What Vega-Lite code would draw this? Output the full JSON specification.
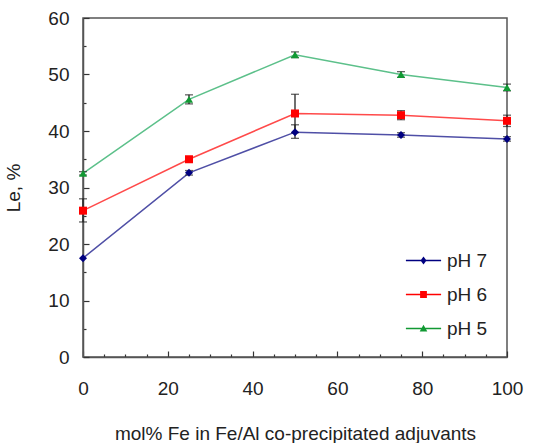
{
  "$schema": "https://vega.github.io/schema/vega-lite/v6.json",
  "autosize": "none",
  "width": 424,
  "height": 339,
  "padding": {"left": 83, "top": 18, "right": 28, "bottom": 86},
  "background": "white",
  "data": {"values": [
    {"series": "pH 7", "x": 0, "y": 17.5},
    {"series": "pH 7", "x": 25, "y": 32.6, "lo": 32.2, "hi": 33.0},
    {"series": "pH 7", "x": 50, "y": 39.8, "lo": 38.7, "hi": 41.1},
    {"series": "pH 7", "x": 75, "y": 39.3, "lo": 38.9, "hi": 39.7},
    {"series": "pH 7", "x": 100, "y": 38.6, "lo": 38.2, "hi": 39.0},
    {"series": "pH 6", "x": 0, "y": 25.9, "lo": 23.9, "hi": 28.0},
    {"series": "pH 6", "x": 25, "y": 35.0, "lo": 34.6, "hi": 35.4},
    {"series": "pH 6", "x": 50, "y": 43.1, "lo": 39.7, "hi": 46.5},
    {"series": "pH 6", "x": 75, "y": 42.8, "lo": 42.0, "hi": 43.6},
    {"series": "pH 6", "x": 100, "y": 41.8, "lo": 40.8, "hi": 42.8},
    {"series": "pH 5", "x": 0, "y": 32.5, "lo": 32.2, "hi": 32.8},
    {"series": "pH 5", "x": 25, "y": 45.6, "lo": 44.8, "hi": 46.4},
    {"series": "pH 5", "x": 50, "y": 53.5, "lo": 53.0, "hi": 54.0},
    {"series": "pH 5", "x": 75, "y": 50.0, "lo": 49.5, "hi": 50.5},
    {"series": "pH 5", "x": 100, "y": 47.7, "lo": 47.1, "hi": 48.3}
  ]},
  "encoding": {
    "x": {"field": "x", "type": "quantitative",
      "scale": {"domain": [0, 100], "nice": false},
      "axis": {"title": "mol% Fe in Fe/Al co-precipitated adjuvants",
        "values": [0,5,10,15,20,25,30,35,40,45,50,55,60,65,70,75,80,85,90,95,100],
        "labelExpr": "datum.value % 20 === 0 ? datum.label : ''",
        "tickSize": {"condition": {"test": "datum.value % 20 === 0", "value": -6}, "value": -3},
        "labelPadding": 28, "titlePadding": 26, "labelFlush": false}},
    "y": {"field": "y", "type": "quantitative",
      "scale": {"domain": [0, 60], "nice": false},
      "axis": {"title": "Le, %",
        "values": [0,5,10,15,20,25,30,35,40,45,50,55,60],
        "labelExpr": "datum.value % 10 === 0 ? datum.label : ''",
        "tickSize": {"condition": {"test": "datum.value % 10 === 0", "value": -6}, "value": -3},
        "labelPadding": 20, "titlePadding": 24, "labelFlush": false}}
  },
  "layer": [
    {
      "mark": {"type": "line", "strokeWidth": 1.5},
      "encoding": {
        "stroke": {"field": "series", "type": "nominal",
          "scale": {"domain": ["pH 7", "pH 6", "pH 5"], "range": ["#4f4fa6", "#ff4a4a", "#5cc08a"]},
          "legend": null}
      }
    },
    {
      "transform": [{"filter": "datum.lo != null"}],
      "mark": {"type": "errorbar", "color": "#222", "thickness": 1.3, "ticks": {"size": 8, "color": "#222", "thickness": 1.3}},
      "encoding": {
        "y": {"field": "lo", "type": "quantitative"},
        "y2": {"field": "hi"}
      }
    },
    {
      "mark": {"type": "point", "filled": true, "opacity": 1, "size": 64},
      "encoding": {
        "color": {"field": "series", "type": "nominal",
          "scale": {"domain": ["pH 7", "pH 6", "pH 5"], "range": ["#000080", "#ff0000", "#119933"]},
          "legend": null},
        "shape": {"condition": [
          {"test": "datum.series === 'pH 7'", "value": "diamond"},
          {"test": "datum.series === 'pH 6'", "value": "square"}
        ], "value": "triangle-up"}
      }
    },
    {
      "mark": {"type": "point", "filled": true, "opacity": 0, "size": 64},
      "encoding": {
        "color": {"field": "series", "type": "nominal",
          "scale": {"domain": ["pH 7", "pH 6", "pH 5"], "range": ["#000080", "#ff0000", "#119933"]}},
        "shape": {"field": "series", "type": "nominal",
          "scale": {"domain": ["pH 7", "pH 6", "pH 5"],
            "range": [
              "M-4.4,-0.17H4.4V0.17H-4.4ZM0,-1L0.75,0L0,1L-0.75,0Z",
              "M-4.4,-0.17H4.4V0.17H-4.4ZM-0.85,-0.85H0.85V0.85H-0.85Z",
              "M-4.4,-0.17H4.4V0.17H-4.4ZM0,-0.95L0.95,0.75H-0.95Z"
            ]}}
      }
    }
  ],
  "resolve": {"scale": {"shape": "independent", "color": "independent"}},
  "config": {
    "font": "Liberation Sans",
    "view": {"stroke": "#555", "strokeWidth": 1.5},
    "axis": {"grid": false, "domainColor": "#555", "domainWidth": 1.5, "tickColor": "#333", "tickWidth": 1.2,
      "labelFont": "Liberation Sans", "labelFontSize": 19, "labelColor": "#222",
      "titleFont": "Liberation Sans", "titleFontSize": 19, "titleFontWeight": "normal", "titleColor": "#222"},
    "legend": {"orient": "none", "legendX": 331, "legendY": 233, "title": null, "padding": 0,
      "symbolSize": 64, "symbolStrokeWidth": 0, "symbolOpacity": 1,
      "labelFont": "Liberation Sans", "labelFontSize": 19, "labelColor": "#222",
      "labelOffset": 14, "rowPadding": 14}
  }
}
